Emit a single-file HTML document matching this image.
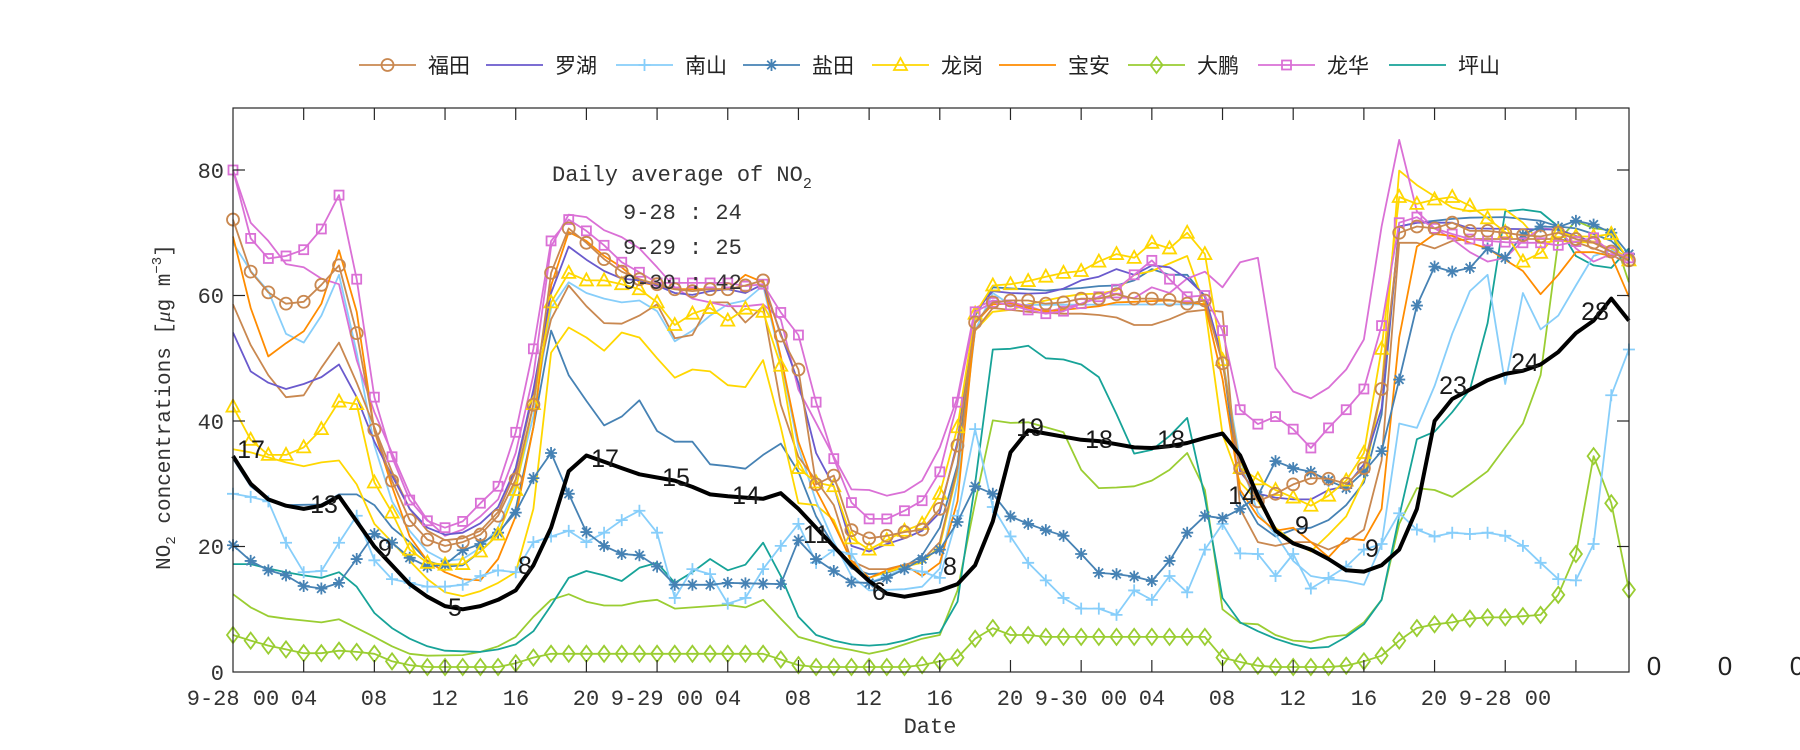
<!DOCTYPE html>
<html><head><meta charset="utf-8">
<style>
html,body{margin:0;padding:0;background:#fff;}
svg{display:block;}
.t{font-family:"Liberation Mono",monospace;fill:#333;}
.cj{font-family:"Liberation Sans","Noto Sans CJK SC",sans-serif;fill:#222;font-size:21px;}
</style></head>
<body>
<svg id="s" width="1800" height="750" viewBox="0 0 1800 750" xmlns="http://www.w3.org/2000/svg">
<rect x="0" y="0" width="1800" height="750" fill="#fff"/>
<g id="plot"></g>
<rect x="233" y="108" width="1396" height="564" fill="none" stroke="#262626" stroke-width="1.2"/>
<g id="ticks" stroke="#262626" stroke-width="1.2"></g>
<!-- y tick labels -->
<g class="t" font-size="22" text-anchor="end">
<text x="224" y="680">0</text>
<text x="224" y="554">20</text>
<text x="224" y="429">40</text>
<text x="224" y="303">60</text>
<text x="224" y="178">80</text>
</g>
<!-- x tick labels -->
<g class="t" font-size="22" text-anchor="middle">
<text x="233" y="705">9-28 00</text>
<text x="304" y="705">04</text>
<text x="374" y="705">08</text>
<text x="445" y="705">12</text>
<text x="516" y="705">16</text>
<text x="586" y="705">20</text>
<text x="657" y="705">9-29 00</text>
<text x="728" y="705">04</text>
<text x="798" y="705">08</text>
<text x="869" y="705">12</text>
<text x="940" y="705">16</text>
<text x="1010" y="705">20</text>
<text x="1081" y="705">9-30 00</text>
<text x="1152" y="705">04</text>
<text x="1222" y="705">08</text>
<text x="1293" y="705">12</text>
<text x="1364" y="705">16</text>
<text x="1434" y="705">20</text>
<text x="1505" y="705">9-28 00</text>
</g>
<g font-family="Liberation Sans, sans-serif" font-size="26" fill="#222" text-anchor="middle">
<text x="1654" y="675">0</text>
<text x="1725" y="675">0</text>
<text x="1797" y="675">0</text>
</g>
<text class="t" font-size="22" x="930" y="733" text-anchor="middle">Date</text>
<text class="t" font-size="21" transform="translate(170,407) rotate(-90)" text-anchor="middle">NO<tspan font-size="14" baseline-shift="-5">2</tspan> concentrations [<tspan font-style="italic" font-family="Liberation Serif,serif">μ</tspan>g m<tspan font-size="14" baseline-shift="9">−3</tspan>]</text>
<!-- annotation -->
<g class="t" font-size="22">
<text x="552" y="181">Daily average of NO<tspan font-size="15" baseline-shift="-7">2</tspan></text>
<text x="623" y="219">9-28 : 24</text>
<text x="623" y="254">9-29 : 25</text>
<text x="623" y="289">9-30 : 42</text>
</g>
<g id="over"></g>
<!-- black line labels -->
<g font-family="Liberation Sans, sans-serif" font-size="25" fill="#1a1a1a" text-anchor="middle" dominant-baseline="central">
<text x="251" y="450">17</text><text x="324" y="505">13</text><text x="385" y="549">9</text>
<text x="455" y="608">5</text><text x="525" y="566">8</text><text x="605" y="459">17</text>
<text x="676" y="478">15</text><text x="746" y="496">14</text><text x="816" y="535">11</text>
<text x="879" y="592">6</text><text x="950" y="567">8</text><text x="1030" y="428">19</text>
<text x="1099" y="440">18</text><text x="1171" y="440">18</text><text x="1242" y="496">14</text>
<text x="1302" y="526">9</text><text x="1372" y="549">9</text><text x="1453" y="386">23</text>
<text x="1525" y="363">24</text><text x="1595" y="312">28</text>
</g>
<!-- legend -->
<g id="leg"></g>
<g class="cj">
<text x="428" y="73">福田</text>
<text x="555" y="73">罗湖</text>
<text x="685" y="73">南山</text>
<text x="812" y="73">盐田</text>
<text x="941" y="73">龙岗</text>
<text x="1068" y="73">宝安</text>
<text x="1197" y="73">大鹏</text>
<text x="1327" y="73">龙华</text>
<text x="1458" y="73">坪山</text>
</g>
</svg>
<script>
(function(){
var NS="http://www.w3.org/2000/svg";
function X(h){return 233+h*17.67;}
function Y(v){return 672-v*6.275;}
function expand(k){var a=[];for(var h=0;h<80;h++){var v=null;for(var i=0;i<k.length-2;i+=2){if(h>=k[i]&&h<=k[i+2]){var t=(k[i+2]==k[i])?0:(h-k[i])/(k[i+2]-k[i]);v=k[i+1]+t*(k[i+3]-k[i+1]);break;}}if(v===null)v=k[k.length-1];a.push(v);}return a;}
function el(n,at,p){var e=document.createElementNS(NS,n);for(var k in at)e.setAttribute(k,at[k]);(p||document.getElementById('plot')).appendChild(e);return e;}
function marker(m,x,y,c,p){
 var sw=1.8;
 if(m=='o')el('circle',{cx:x,cy:y,r:6,fill:'none',stroke:c,'stroke-width':sw},p);
 else if(m=='s')el('rect',{x:x-4.5,y:y-4.5,width:9,height:9,fill:'none',stroke:c,'stroke-width':sw},p);
 else if(m=='^')el('polygon',{points:(x)+','+(y-7)+' '+(x+6.5)+','+(y+5)+' '+(x-6.5)+','+(y+5),fill:'none',stroke:c,'stroke-width':sw},p);
 else if(m=='d')el('polygon',{points:x+','+(y-8)+' '+(x+6)+','+y+' '+x+','+(y+8)+' '+(x-6)+','+y,fill:'none',stroke:c,'stroke-width':sw},p);
 else if(m=='+')el('path',{d:'M'+(x-6)+' '+y+'H'+(x+6)+'M'+x+' '+(y-6)+'V'+(y+6),stroke:c,'stroke-width':sw},p);
 else if(m=='*')el('path',{d:'M'+(x-6)+' '+y+'H'+(x+6)+'M'+x+' '+(y-6)+'V'+(y+6)+'M'+(x-4.3)+' '+(y-4.3)+'L'+(x+4.3)+' '+(y+4.3)+'M'+(x-4.3)+' '+(y+4.3)+'L'+(x+4.3)+' '+(y-4.3),stroke:c,'stroke-width':sw},p);
}
function line(k,c,w,m){var a=expand(k);var d='';for(var i=0;i<a.length;i++)d+=(i?'L':'M')+X(i).toFixed(1)+' '+Y(a[i]).toFixed(1);
 el('path',{d:d,fill:'none',stroke:c,'stroke-width':w,'stroke-linejoin':'round'});
 if(m)for(var i=0;i<a.length;i++)marker(m,X(i),Y(a[i]),c);}
var C={br:'#c98850',pu:'#6a5acd',lb:'#87cefa',sb:'#4682b4',ye:'#ffd700',or:'#ff8c00',yg:'#9acd32',pk:'#da70d6',te:'#17a398'};
// unmarked extras
line([0,12.4,1,10.3,2,8.9,3,8.5,4,8.2,5,7.9,6,8.4,7,7,8,5.6,9,4.1,10,2.9,11,2.6,13,2.7,14,3.2,15,4.1,16,5.6,17,8.8,18,11.5,19,12.4,20,11.2,21,10.6,22,10.6,23,11.2,24,11.5,25,10.1,27,10.5,28,10.7,29,10.3,30,11.5,31,8.5,32,5.6,33,4.8,34,4,35,3.5,36,2.9,37,3.5,38,4.4,39,5.3,40,5.9,41,13,42,27,43,40.1,44,39.7,45,39.8,46,39,47,38.2,48,32.2,49,29.3,50,29.4,51,29.6,52,30.5,53,32.2,54,34.9,55,29,56,10,57,7.8,58,7.6,59,5.9,60,5,61,4.8,62,5.6,63,5.9,64,7.9,65,11.5,66,23.6,67,29.3,68,29,69,27.9,70,29.9,71,32,72,35.8,73,39.6,74,47.3,75,68.7,76,71.9,77,70.7,78,70.4,79,62.1],C.yg,1.8);
line([0,17.2,1,17.2,2,16.5,3,15.9,4,15.4,5,15,6,15.9,7,13.6,8,9.4,9,7,10,5.3,11,4.1,12,3.4,14,3.2,15,3.6,16,4.4,17,6.5,18,10.6,19,15,20,16.1,21,15.4,22,14.5,23,16.6,24,17.4,25,14.2,26,15.9,27,18,28,16.2,29,17.1,30,20.6,31,15.3,32,8.8,33,5.9,34,5,35,4.4,36,4.2,37,4.4,38,5,39,5.9,40,6.3,41,11.2,42,30,43,51.4,44,51.5,45,52,46,50,47,49.8,48,49,49,47,50,41.1,51,34.8,52,35.4,53,37.6,54,40.5,55,27.8,56,11.8,57,7.9,58,6.5,59,5.3,60,4.4,61,3.8,62,4,63,5.6,64,7.6,65,11.5,66,24.8,67,37.1,68,38.3,69,41.4,70,45,71,55.6,72,73.4,73,73.7,74,73.3,75,71,76,66.3,77,64.8,78,64.4,79,67.5],C.te,1.8);
line([0,34,1,29.6,2,27.5,3,26.6,5,26.7,6,28.3,7,28.3,8,26.6,9,23,10,20.7,11,17.7,12,16.8,13,17,14,19.2,15,21.9,16,26,17,39,18,54.4,19,47.3,20,43.2,21,39.3,22,40.7,23,43.3,24,38.4,25,36.7,26,36.7,27,33.1,28,32.8,29,32.4,30,34.6,31,36.4,32,31.9,33,24.8,34,20.1,35,16.5,36,15.6,37,15.8,38,16.8,39,18.6,40,23,41,33,42,56.8,43,61.3,46,60.8,47,61,48,61.2,49,61.5,50,61.6,51,62.4,52,64.2,53,63.3,54,63.3,55,59.8,56,50,57,28.4,58,23.6,59,21.6,60,22.7,61,23,62,24.2,63,26.6,64,30.2,65,41,66,71,67,71.6,68,71.9,69,72.2,70,72.4,72,72.5,73,72.2,74,71.9,75,71,76,70.7,77,69.8,78,68.7,79,66],C.sb,1.8);
line([0,35.5,1,35,2,34.2,3,33.4,4,32.8,5,33.4,6,33.7,7,29.9,8,23.6,9,20.7,10,17.7,11,14.8,12,12.7,13,12.1,14,12.9,15,14.2,16,15.9,17,26,18,50.9,19,54.9,20,53.3,21,51.2,22,54.1,23,53.3,24,50,25,46.9,26,48.2,27,47.9,28,45.7,29,45.4,30,49.7,31,39,32,26.9,33,26.6,34,24.2,35,17.4,36,15,37,15.9,38,16.8,39,17.4,40,20.1,41,32,42,54.4,43,57.4,44,57.7,45,58.6,46,59.2,47,59.8,48,60.2,49,60.3,50,60.8,51,63.3,52,63.9,53,65.1,54,66.3,55,58.3,56,37.9,57,30.2,58,27.2,59,23,60,20.7,61,19.2,62,21.9,63,24.8,64,30.7,65,45,66,79.9,67,77.6,68,75.8,69,74,70,73.4,71,73.7,72,73.7,73,71.6,74,68.4,75,68.7,77,68.4,78,67.5,79,66],C.ye,1.8);
line([0,68.4,1,63.9,2,60.7,3,53.9,4,52.5,5,56.8,6,63.3,7,50.9,8,36.1,9,27.2,10,22.5,11,19.2,12,17.7,13,18,14,19.8,15,23,16,29.6,17,40.8,18,58,19,62.1,20,60.4,21,59.5,22,58.9,23,59.2,24,57.5,25,52.7,26,54.4,27,56.8,28,58.6,29,59.2,30,61.6,31,49.7,32,35.8,33,27.2,34,20.7,35,15.3,36,13,38,13.2,39,13.6,40,16.5,41,30.2,42,54.4,43,60.4,44,58.5,55,58.6,56,50,57,33.7,58,25.4,59,21.9,60,17.7,61,15.3,62,14.8,63,14.5,64,13.9,65,20.4,66,39.6,67,38.9,68,45.6,69,53.9,70,60.7,71,63.3,72,45.9,73,60.4,74,54.6,75,56.8,76,61.6,77,66.3,78,67.2,79,65.7],C.lb,1.8);
line([0,58.6,1,52.1,2,47.3,3,43.8,4,44.1,5,48.5,6,52.5,7,46.1,8,39,9,31.9,10,26,11,22.5,12,21,13,21.3,14,22.5,15,25.5,16,31.9,17,44.4,18,56.2,19,61.6,20,58.3,21,55.6,22,55.5,23,56.8,24,58.6,25,53.2,26,53.7,27,58.9,28,58.9,29,55.7,30,58.3,31,42.6,32,34.3,33,30.5,34,26.6,35,17.7,36,16.4,37,16.4,38,17.1,39,17.8,40,20.7,41,32.5,42,54.4,43,58,44,57.7,45,57.4,47,57.1,48,57.1,49,56.9,50,56.5,51,55.3,52,55.3,53,56.2,54,57.4,55,57.7,56,57.4,57,26,58,20.7,59,20.1,60,20.7,61,20.7,62,19.5,63,20.7,64,22.7,65,33.7,66,68.4,67,68.4,68,67.5,69,68.7,70,69,75,69,76,68.5,77,67.5,78,66.5,79,65],C.br,1.8);
line([0,80,1,71.6,2,68.7,3,65,4,64.5,5,62.7,6,61.8,7,49.7,8,41.4,9,34.9,10,28.4,11,24.2,12,21.7,13,22.7,14,24.8,15,27.5,16,34.9,17,47.3,18,67.8,19,72.9,20,72.5,21,70.4,22,69.3,23,67.5,24,64.5,25,61.3,26,59.5,27,58.9,28,58.3,29,58.3,30,58.6,31,56.2,32,45,33,39.7,34,34.3,35,29.1,36,29,37,28.1,38,28.7,39,30.5,40,35.8,41,43.8,42,58,43,59.2,44,58.9,45,58.3,46,57.4,47,58,48,58.7,49,59.6,50,59.7,51,59.6,52,61.3,53,60.4,54,62.7,55,63.8,56,61.3,57,65.3,58,66,59,48.5,60,44.7,61,43.6,62,45.3,63,48.2,64,53,65,71,66,84.8,67,73.4,68,70.7,69,69,70,66.9,71,65.4,72,66,73,68.7,74,70.7,75,70.5,76,67.5,77,65.4,78,66.6,79,66.3],C.pk,1.8);
// legend series
line([0,12.4],'none',0);
line([0,69.4,1,58,2,50.3,3,52.4,4,54.3,5,58.7,6,67.2,7,57.4,8,38.4,9,29.6,10,21.6,11,17.7,12,15.9,13,14.8,14,14.6,15,18,16,24.8,17,39,18,61.6,19,70.1,20,68.7,21,66.3,22,64.5,23,62.1,24,61.6,25,61,28,61,29,63.3,30,62.1,31,50.3,32,36.7,33,29,34,23.6,35,17.7,36,15,37,16.2,38,17.1,39,15.3,40,17.4,41,27.2,42,55.6,43,58.6,44,58.7,45,58,46,57.5,47,57.7,48,58,49,58.3,50,58.9,53,59.2,54,58.9,55,58.6,56,46.7,57,29,58,24.8,59,22.5,60,23,61,20.7,62,18.3,63,21.3,64,21,65,26,66,53.3,67,67.8,68,69.8,69,69.5,70,68.4,71,67.5,72,65.7,73,63.9,74,60.2,75,63.3,76,66.9,77,66.9,78,66.3,79,59.8],C.or,1.8);
line([0,54.1,1,47.9,2,46.1,3,45.1,4,45.9,5,47,6,49,7,43.8,8,36.7,9,31.3,10,26,11,23,12,21.9,13,22.2,14,23.7,15,26.3,16,32.5,17,45,18,60.4,19,67.8,20,65.7,21,63.9,22,62.7,23,62.4,24,61.6,25,60.4,26,60.1,27,60.7,28,61,29,60.4,30,61.8,31,53.9,32,46.1,33,34.9,34,29.6,35,20.1,36,19.2,37,20.4,38,21.3,39,22.5,40,25.4,41,36.7,42,57.4,43,60.7,44,60.4,45,60.3,46,60.4,47,61.1,48,62.4,49,63,50,64.2,51,63.3,52,64.8,53,64.5,54,62.7,55,60,56,50,57,31.9,58,28.4,59,27.8,60,27.5,61,27.5,62,29,63,29.6,64,33.1,65,42,66,71,67,71.6,69,71.6,70,70.7,75,70.5,76,69.5,77,68.5,78,67,79,65.5],C.pu,1.8);
line([0,5.9,1,5,2,4.2,3,3.6,4,3,5,3,6,3.4,7,3.2,8,2.9,9,1.7,10,1.1,11,0.8,15,0.8,16,1.4,17,2.3,18,2.9,30,2.9,31,2,32,1.1,33,0.8,38,0.8,39,1.1,40,1.7,41,2.3,42,5.3,43,7,44,5.9,45,5.9,46,5.6,55,5.6,56,2.3,57,1.6,58,1,59,0.8,62,0.8,63,1,64,1.7,65,2.6,66,5,67,7,68,7.6,69,7.9,70,8.5,71,8.7,72,8.7,73,8.9,74,9.1,75,12.3,76,18.8,77,34.4,78,26.9,79,13.1],C.yg,1.8,'d');
line([0,28.4,1,27.9,2,27.2,3,20.6,4,15.9,5,16.1,6,20.6,7,24.9,8,17.8,9,14.8,10,14.2,11,13.6,12,13.6,13,13.9,14,15.3,15,16.2,16,15.9,17,20.7,18,21.6,19,22.5,20,20.7,21,22.2,22,24.2,23,25.7,24,22.2,25,11.8,26,16.4,27,15.6,28,10.9,29,11.8,30,16.4,31,20.1,32,23.6,33,17.4,34,19.4,35,18.8,36,14.2,37,15.3,38,16.5,39,16,40,15,41,24.9,42,38.7,43,26.3,44,21.6,45,17.4,46,14.6,47,11.8,48,10.1,49,10.1,50,9.1,51,13,52,11.5,53,15.3,54,12.7,55,19.5,56,23.6,57,18.9,58,18.8,59,15.3,60,18.8,61,13.3,62,15,63,16.8,64,19.5,65,20.4,66,25.3,67,22.7,68,21.6,69,22.2,70,22,71,22.2,72,21.7,73,20.1,74,17.4,75,14.8,76,14.6,77,20.4,78,44.1,79,51.4],C.lb,1.8,'+');
line([0,20.2,1,17.7,2,16.2,3,15.4,4,13.7,5,13.3,6,14.2,7,18,8,22,9,20.6,10,18.2,11,16.8,12,17.1,13,19.4,14,20.4,15,22.2,16,25.4,17,30.9,18,34.9,19,28.4,20,22.3,21,20.1,22,18.8,23,18.6,24,16.8,25,13.9,27,13.9,28,14.2,31,14,32,21,33,18,34,16.1,35,14.3,36,14.2,37,15,38,16.4,39,18,40,19.5,41,23.9,42,29.6,43,28.4,44,24.8,45,23.6,46,22.6,47,21.7,48,18.8,49,15.8,50,15.6,51,15.2,52,14.5,53,17.7,54,22.2,55,24.9,56,24.5,57,26,58,28.1,59,33.6,60,32.5,61,31.9,62,30.5,63,29.3,64,31.9,65,35.2,66,46.6,67,58.4,68,64.6,69,63.8,70,64.4,71,67.5,72,66,73,69.7,74,71,75,70.9,76,71.9,77,71.3,78,70,79,66.6],C.sb,1.8,'*');
line([0,42.3,1,37,2,34.6,3,34.6,4,35.8,5,38.7,6,43.1,7,42.7,8,30.2,9,25.4,10,19.5,11,17.4,12,17.1,13,17.2,14,19.2,15,21.9,16,29,17,42.7,18,58.9,19,63.6,20,62.4,21,62.4,22,61.8,23,61,24,58.9,25,55.3,26,57.1,27,58,28,56,29,57.9,30,57.4,31,48.8,32,32.5,33,30.2,34,29.6,35,21.3,36,19.5,37,21,38,22.5,39,23.6,40,28.4,41,39,42,57.1,43,61.6,44,61.8,45,62.3,46,63,47,63.6,48,63.9,49,65.4,50,66.6,51,66,52,68.4,53,67.5,54,70,55,66.6,56,49.7,57,32.5,58,30.7,59,29,60,27.8,61,26.5,62,28.1,63,30.5,64,34.9,65,51.5,66,75.7,67,74.6,68,75.3,69,75.7,70,74.3,71,72.3,72,70.1,73,65.4,74,66.8,75,70.1,76,69.4,77,69.4,78,69.8,79,65.6],C.ye,1.8,'^');
line([0,80,1,69.1,2,65.9,3,66.3,4,67.3,5,70.6,6,76,7,62.6,8,43.8,9,34.3,10,27.4,11,24.1,12,23,13,24,14,26.9,15,29.6,16,38.2,17,51.5,18,68.7,19,72.1,20,70.3,21,68,22,65.3,23,63.7,24,62,28,62,29,61.5,30,61.8,31,57.3,32,53.7,33,43,34,34,35,27,36,24.4,37,24.4,38,25.7,39,27.3,40,31.9,41,43,42,57.4,43,58.9,44,58.5,45,57.7,46,57.1,47,57.5,48,58.7,49,59.8,50,61,51,63.3,52,65.6,53,62.6,54,59.8,55,60,56,54.4,57,41.8,58,39.5,59,40.7,60,38.7,61,35.7,62,38.9,63,41.8,64,45.1,65,55.2,66,71.6,67,72.5,68,70.7,69,69.8,70,69,71,68.7,72,68.5,73,68.4,74,68.4,75,68,76,68.6,77,69.2,78,66.9,79,66],C.pk,1.8,'s');
line([0,72.1,1,63.8,2,60.5,3,58.7,4,59,5,61.7,6,64.8,7,54,8,38.6,9,30.5,10,24.2,11,21.1,12,20.1,13,20.7,14,21.9,15,24.9,16,30.7,17,42.6,18,63.6,19,70.7,20,68.4,21,65.8,22,63.8,23,62.6,24,61.8,25,61,26,60.7,27,61,28,61,29,61.6,30,62.4,31,53.6,32,48.2,33,29.9,34,31.3,35,22.6,36,21.3,37,21.7,38,22.3,39,22.7,40,26,41,36.1,42,55.7,43,58.9,44,59.2,45,59.2,46,58.7,47,58.9,48,59.5,49,59.5,50,60.2,51,59.5,52,59.5,53,59.3,54,58.7,55,59.2,56,49.2,57,32.5,58,27.2,59,28.4,60,29.9,61,30.9,62,30.8,63,30,64,32.5,65,45.1,66,70,67,71,68,70.7,69,71.6,70,70.3,71,70.3,72,70,73,69.6,74,69.4,75,70,76,69,77,68.4,78,67,79,65.6],C.br,1.8,'o');
line([0,12.4],'none',0);
// teal legend series drawn earlier; black mean
line([0,34.4,1,30,2,27.5,3,26.5,4,26,5,26.5,6,28,7,24,8,20,9,17,10,14,11,12,12,10.5,13,10,14,10.5,15,11.5,16,13,17,17,18,23,19,32,20,34.5,21,33.5,22,32.5,23,31.5,24,31,25,30.5,26,29.5,27,28.3,28,28,29,27.8,30,27.6,31,28.5,32,26,33,23,34,20,35,17,36,14.5,37,12.5,38,12,39,12.5,40,13,41,14,42,17,43,24,44,35,45,38.5,46,38,47,37.5,48,37,49,36.8,50,36.3,51,35.8,52,35.7,53,36,54,36.5,55,37.3,56,38,57,34.5,58,28,59,22.5,60,20.5,61,19.5,62,18,63,16.2,64,16,65,17,66,19.5,67,26,68,40,69,43.5,70,45,71,46.5,72,47.5,73,48,74,49,75,51,76,54,77,56,78,59.5,79,56],'#000',4);
// ticks
var tk=document.getElementById('ticks');
for(var h=4;h<=76;h+=4){var x=X(h);el('line',{x1:x,y1:672,x2:x,y2:660},tk);el('line',{x1:x,y1:108,x2:x,y2:120},tk);}
for(var v=20;v<=80;v+=20){var y=Y(v);el('line',{x1:233,y1:y,x2:245,y2:y},tk);el('line',{x1:1629,y1:y,x2:1617,y2:y},tk);}
// legend
var lg=document.getElementById('leg');
var L=[[359,C.br,'o'],[486,C.pu,''],[616,C.lb,'+'],[743,C.sb,'*'],[872,C.ye,'^'],[999,C.or,''],[1128,C.yg,'d'],[1258,C.pk,'s'],[1389,C.te,'']];
L.forEach(function(a){el('line',{x1:a[0],y1:65,x2:a[0]+57,y2:65,stroke:a[1],'stroke-width':1.8},lg);if(a[2])marker(a[2],a[0]+28.5,65,a[1],lg);});
})();
</script>
</body></html>
